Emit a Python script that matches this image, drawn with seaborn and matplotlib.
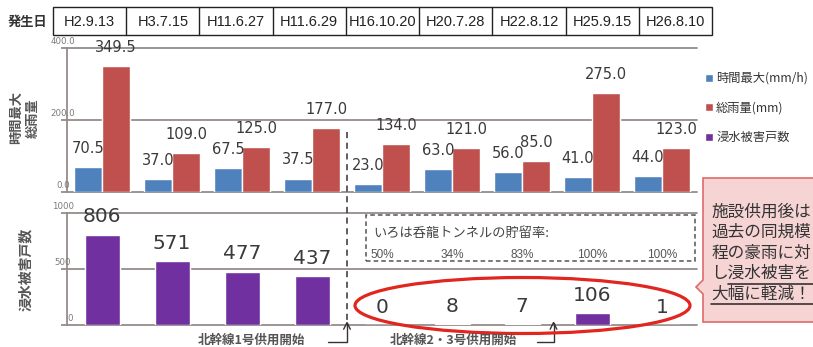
import matplotlib
matplotlib.use("Agg")
import matplotlib.pyplot as plt
import matplotlib.transforms as mtransforms
from matplotlib.patches import Rectangle, Polygon, Ellipse, Patch
from matplotlib.lines import Line2D
import pandas as pd
import seaborn as sns

# ---- data -------------------------------------------------------------
dates = ["H2.9.13", "H3.7.15", "H11.6.27", "H11.6.29", "H16.10.20",
         "H20.7.28", "H22.8.12", "H25.9.15", "H26.8.10"]
hourly_max = [70.5, 37.0, 67.5, 37.5, 23.0, 63.0, 56.0, 41.0, 44.0]
total_rain = [349.5, 109.0, 125.0, 177.0, 134.0, 121.0, 85.0, 275.0, 123.0]
flooded_houses = [806, 571, 477, 437, 0, 8, 7, 106, 1]
storage_rates = ["50%", "34%", "83%", "100%", "100%"]   # events from H16.10.20 on
series_names = ["時間最大(mm/h)", "総雨量(mm)"]
damage_name = "浸水被害戸数"
rain_ticks = [0, 200, 400]
damage_ticks = [0, 500, 1000]
openings = ["北幹線1号供用開始", "北幹線2・3号供用開始"]
callout_lines = ["施設供用後は", "過去の同規模", "程の豪雨に対", "し浸水被害を", "大幅に軽減！"]

BLUE, RED, PURPLE = "#4F81BD", "#C0504D", "#7030A0"
GRID = "#958b8b"
TXT = "#3a3a3a"

W, H = 813, 347
def fx(px):
    return px / W
def fy(py):
    return 1 - py / H

sns.set_theme(style="white")
plt.rcParams["font.family"] = ["Noto Sans CJK JP", "DejaVu Sans"]

fig = plt.figure(figsize=(W / 100, H / 100), dpi=100)

rain = pd.DataFrame({
    "date": dates * 2,
    "value": hourly_max + total_rain,
    "series": [series_names[0]] * len(dates) + [series_names[1]] * len(dates),
})
damage = pd.DataFrame({"date": dates, "houses": flooded_houses})

ax_top = fig.add_axes([fx(67), fy(192), fx(697) - fx(67), fy(48) - fy(192)])
ax_bot = fig.add_axes([fx(67), fy(325), fx(697) - fx(67), fy(213) - fy(325)])

sns.barplot(data=rain, x="date", y="value", hue="series", order=dates,
            hue_order=series_names, palette=[BLUE, RED], width=0.8,
            saturation=1, errorbar=None, legend=False, ax=ax_top)
sns.barplot(data=damage, x="date", y="houses", order=dates, color=PURPLE,
            width=0.5, saturation=1, errorbar=None, ax=ax_bot)

for ax, top, ticks, fmt in [(ax_top, 400, rain_ticks, "{:.1f}"),
                            (ax_bot, 1000, damage_ticks, "{:d}")]:
    ax.set_xlim(-0.5, len(dates) - 0.5)
    ax.set_ylim(0, top)
    ax.set_xticks([])
    ax.set_yticks(ticks)
    ax.set_yticklabels([])
    ax.set_xlabel("")
    ax.set_ylabel("")
    ax.patch.set_alpha(0)
    for s in ["top", "right", "bottom"]:
        ax.spines[s].set_visible(False)
    ax.spines["left"].set_color(GRID)
    ax.spines["left"].set_linewidth(1.3)
    ax.yaxis.grid(True, color=GRID, linewidth=1.3)
    ax.set_axisbelow(True)
    ax.tick_params(axis="y", left=True, length=4, width=1.3, color=GRID)
    for gl in ax.get_ygridlines():
        gl.set_clip_on(False)
    for v in ticks:
        dx = 2 if (ax is ax_bot and v == 0) else -3
        ax.annotate(fmt.format(v), xy=(0, v), xycoords=("axes fraction", "data"),
                    xytext=(dx, 5), textcoords="offset points",
                    ha="center", va="center", fontsize=6.2, color="#7a7a7a",
                    family="DejaVu Sans", annotation_clip=False)

# value labels
for cont, vals in zip(ax_top.containers, [hourly_max, total_rain]):
    ax_top.bar_label(cont, labels=[f"{v:.1f}" for v in vals], padding=8,
                     fontsize=10.5, color=TXT, family="DejaVu Sans", clip_on=False)
ax_bot.bar_label(ax_bot.containers[0], labels=[str(v) for v in flooded_houses],
                 padding=6, fontsize=14.5, color=TXT, family="DejaVu Sans",
                 clip_on=False)

# header row of event dates
fig.text(fx(28), fy(22), "発生日", ha="center", va="center", fontsize=9.5,
         weight="bold", color="#333333")
hx0, hx1, hy0, hy1 = 53, 712, 7, 35
cw = (hx1 - hx0) / len(dates)
fig.add_artist(Rectangle((fx(hx0), fy(hy1)), fx(hx1) - fx(hx0), fy(hy0) - fy(hy1),
                         transform=fig.transFigure, fill=False, ec="#222222", lw=1))
for i, d in enumerate(dates):
    if i > 0:
        fig.add_artist(Line2D([fx(hx0 + i * cw)] * 2, [fy(hy1), fy(hy0)],
                              transform=fig.transFigure, color="#222222", lw=1))
    fig.text(fx(hx0 + (i + 0.5) * cw), fy(22), d, ha="center", va="center",
             fontsize=10.5, family="Liberation Sans", color="#222222")

# axis titles
fig.text(fx(24), fy(118), "時間最大\n総雨量", rotation=90, ha="center", va="center",
         multialignment="center", fontsize=9.5, weight="bold", color="#555555",
         linespacing=1.25)
fig.text(fx(26), fy(269), damage_name, rotation=90, ha="center", va="center",
         fontsize=10, weight="bold", color="#555555")

# legend
handles = [Patch(fc=BLUE), Patch(fc=RED), Patch(fc=PURPLE)]
fig.legend(handles, series_names + [damage_name], loc="upper left",
           bbox_to_anchor=(fx(705), fy(72)), frameon=False, fontsize=8.8,
           handlelength=0.65, handleheight=0.65, handletextpad=0.25,
           labelspacing=1.35, borderpad=0, borderaxespad=0, labelcolor="#333333")

# dashed separator between before / after the tunnel
blend_top = mtransforms.blended_transform_factory(ax_top.transData, fig.transFigure)
blend_bot = mtransforms.blended_transform_factory(ax_bot.transData, fig.transFigure)
fig.add_artist(Line2D([3.5, 3.5], [fy(132), fy(322)], transform=blend_top,
                      color="#333333", lw=1.1, ls=(0, (4, 3))))

# opening annotations
for xcat, label, tx, lx in [(3.5, openings[0], 251, 328), (6.45, openings[1], 453, 537)]:
    fig.text(fx(tx), fy(340), label, ha="center", va="center", fontsize=9,
             weight="bold", color="#555555")
    ax_bot.annotate("", xy=(xcat, fy(321)), xycoords=blend_bot,
                    xytext=(fx(lx), fy(342)), textcoords="figure fraction",
                    arrowprops=dict(arrowstyle="->", color="#333333", lw=1,
                                    shrinkA=0, shrinkB=0,
                                    connectionstyle="angle,angleA=0,angleB=90,rad=0"),
                    annotation_clip=False)

# storage-rate box
fig.add_artist(Rectangle((fx(366), fy(261)), fx(695) - fx(366), fy(215) - fy(261),
                         transform=fig.transFigure, fill=False, ec="#555555",
                         lw=1.1, ls=(0, (3, 2))))
fig.text(fx(373), fy(233), "いろは呑龍トンネルの貯留率:", ha="left", va="center",
         fontsize=9.5, color="#444444")
for i, r in enumerate(storage_rates):
    fig.text(4 + i, fy(255), r, transform=blend_bot, ha="center", va="center",
             fontsize=8.5, family="Liberation Sans", color="#555555")

# red ellipse around post-tunnel damage
fig.add_artist(Ellipse((fx(522.5), fy(305.5)), fx(335), 56 / H,
                       transform=fig.transFigure, fill=False, ec="#e2261f", lw=2.3))

# callout box
pts = [(703, 178), (830, 178), (830, 322), (703, 322), (703, 294), (696, 287), (703, 280)]
fig.add_artist(Polygon([(fx(x), fy(y)) for x, y in pts], closed=True,
                       transform=fig.transFigure, fc="#f6d4d4", ec="#e06a6a", lw=1.2))
ys = [212, 232.5, 253, 273.5, 294]
for y, line in zip(ys, callout_lines):
    fig.text(fx(711), fy(y), line, ha="left", va="center", fontsize=12,
             color="#333333")
for y, x0 in [(ys[3] + 10, 728), (ys[4] + 10, 711)]:
    fig.add_artist(Line2D([fx(x0), fx(830)], [fy(y), fy(y)],
                          transform=fig.transFigure, color="#333333", lw=1.2))

fig.savefig("out.png", dpi=100)
